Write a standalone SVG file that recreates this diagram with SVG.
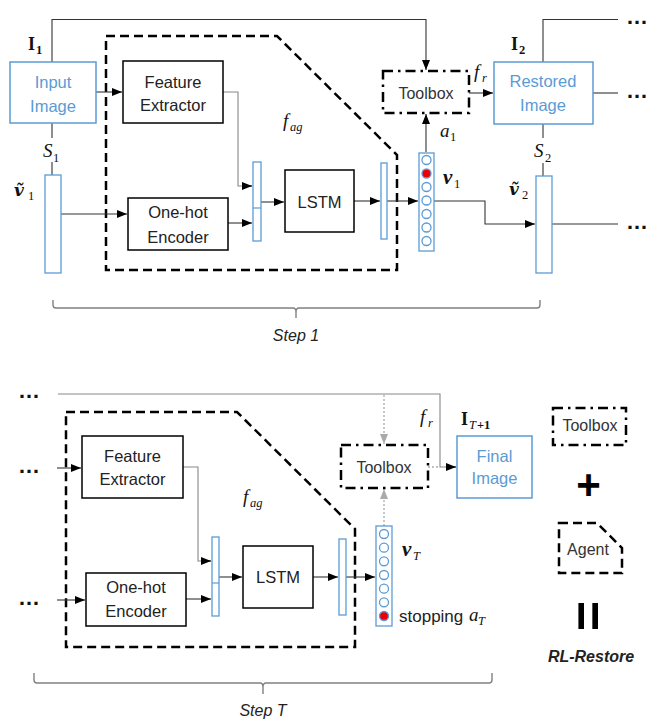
<svg xmlns="http://www.w3.org/2000/svg" width="650" height="720" viewBox="0 0 650 720">
<defs>
<marker id="ah" markerUnits="userSpaceOnUse" markerWidth="10" markerHeight="8" refX="10" refY="4" orient="auto"><path d="M0,0 L10,4 L0,8 z" fill="#000"/></marker>
<marker id="ahg" markerUnits="userSpaceOnUse" markerWidth="10" markerHeight="8" refX="10" refY="4" orient="auto"><path d="M0,0 L10,4 L0,8 z" fill="#aaa"/></marker>
<style>
.box{fill:#fff;stroke:#000;stroke-width:1.5}
.bbox{fill:#fff;stroke:#5b9bd5;stroke-width:1.5}
.bar{fill:#fff;stroke:#5b9bd5;stroke-width:1.3}
.agent{fill:none;stroke:#000;stroke-width:2.5;stroke-dasharray:9,5}
.tool{fill:#fff;stroke:#000;stroke-width:2.5;stroke-dasharray:10,5,2.5,5}
.ln{fill:none;stroke:#333;stroke-width:1.1}
.lg{fill:none;stroke:#888;stroke-width:1.1}
.dot{fill:none;stroke:#aaa;stroke-width:1.3;stroke-dasharray:2,2}
.brace{fill:none;stroke:#808080;stroke-width:1.4}
.t{font-family:"Liberation Sans",Arial,sans-serif;font-size:16.5px;fill:#222;text-anchor:middle}
.tb{font-family:"Liberation Sans",Arial,sans-serif;font-size:16.5px;fill:#5b9bd5;text-anchor:middle}
.tt{font-family:"Liberation Sans",Arial,sans-serif;font-size:16px;fill:#333;text-anchor:middle}
.step{font-family:"Liberation Sans",Arial,sans-serif;font-size:16px;font-style:italic;fill:#222;text-anchor:middle}
.m{font-family:"Liberation Serif","DejaVu Serif",serif;font-size:19px;font-style:italic;fill:#111}
.mb{font-family:"Liberation Serif","DejaVu Serif",serif;font-size:18px;font-weight:bold;fill:#111}
.mbi{font-family:"Liberation Serif","DejaVu Serif",serif;font-size:21px;font-weight:bold;font-style:italic;fill:#111}
.vt{font-family:"DejaVu Serif",serif;font-size:17px;font-weight:bold;font-style:italic;fill:#111}
.sub{font-family:"Liberation Serif","DejaVu Serif",serif;font-size:12.5px;fill:#111}
.subi{font-family:"Liberation Serif","DejaVu Serif",serif;font-size:12.5px;font-style:italic;fill:#111}
.dots{font-family:"Liberation Sans",Arial,sans-serif;font-size:22px;font-weight:bold;fill:#111}
.circ{fill:#fff;stroke:#5b9bd5;stroke-width:1.3}
.red{fill:#e00;stroke:#5b9bd5;stroke-width:1.3}
</style>
</defs>

<!-- ============ STEP 1 ============ -->
<g id="agent1"><path class="agent" d="M106,36 H277 L397,155 V270 H106 Z"/>
<text class="m" x="283" y="127">f</text><text class="subi" x="290" y="131">ag</text></g>

<g id="connectors1">
<path class="ln" d="M52,62 V19.5 H426 V70" marker-end="url(#ah)"/>
<path class="ln" d="M96,92 H122" marker-end="url(#ah)"/>
<path class="lg" d="M223,92 H238 V186 H252"/>
<path class="ln" d="M242,186 H252" marker-end="url(#ah)"/>
<path class="ln" d="M61,214 H127" marker-end="url(#ah)"/>
<path class="ln" d="M228,223 H252" marker-end="url(#ah)"/>
<path class="ln" d="M261,202 H284" marker-end="url(#ah)"/>
<path class="ln" d="M354,201 H380" marker-end="url(#ah)"/>
<path class="ln" d="M387,201 H418" marker-end="url(#ah)"/>
<path class="ln" d="M426,152 V114" marker-end="url(#ah)"/>
<path class="ln" d="M469,93 H493" marker-end="url(#ah)"/>
<path class="ln" d="M434,201 H485 V224 H535" marker-end="url(#ah)"/>
<path class="ln" d="M543,62 V19.5 H618"/>
<path class="ln" d="M593,93 H618"/>
<path class="ln" d="M552,224 H618"/>
<path class="ln" d="M52,123 V138 M52,162 V175"/>
<path class="ln" d="M543,124 V138 M543,163 V176"/>
</g>

<g id="input1"><rect class="bbox" x="10" y="62" width="86" height="61"/>
<text class="tb" x="53" y="88">Input</text><text class="tb" x="53" y="112">Image</text>
<text class="mb" x="28" y="50">I</text><text class="sub" x="36" y="54" font-weight="bold">1</text></g>

<g id="s1"><text class="m" x="43" y="157">S</text><text class="sub" x="53" y="162">1</text></g>

<g id="vt1"><rect class="bar" x="45" y="175" width="16" height="98"/>
<text class="vt" x="14" y="196">ṽ</text><text class="sub" x="28" y="200">1</text></g>

<g id="fe1"><rect class="box" x="123" y="61" width="100" height="62"/>
<text class="t" x="173" y="88">Feature</text><text class="t" x="173" y="111">Extractor</text></g>

<g id="ohe1"><rect class="box" x="128" y="198" width="100" height="52"/>
<text class="t" x="178" y="218">One-hot</text><text class="t" x="178" y="243">Encoder</text></g>

<g id="concat1"><rect class="bar" x="253" y="162" width="8" height="79"/><line x1="253" y1="208" x2="261" y2="208" stroke="#5b9bd5" stroke-width="1.2"/></g>

<g id="lstm1"><rect class="box" x="285" y="170" width="69" height="62"/><text class="t" x="319.5" y="208">LSTM</text></g>

<g id="out1"><rect class="bar" x="381" y="163" width="6" height="76"/></g>

<g id="v1"><rect class="bar" x="419" y="153" width="15" height="98"/>
<circle class="circ" cx="426.5" cy="160" r="4.5"/><circle class="red" cx="426.5" cy="173.5" r="4.5"/>
<circle class="circ" cx="426.5" cy="187" r="4.5"/><circle class="circ" cx="426.5" cy="200.5" r="4.5"/>
<circle class="circ" cx="426.5" cy="214" r="4.5"/><circle class="circ" cx="426.5" cy="227.5" r="4.5"/>
<circle class="circ" cx="426.5" cy="241" r="4.5"/>
<text class="mbi" x="443" y="184">v</text><text class="sub" x="454" y="188">1</text>
<text class="m" x="440" y="137">a</text><text class="sub" x="450" y="141">1</text></g>

<g id="toolbox1"><rect class="tool" x="383" y="71" width="86" height="42"/><text class="tt" x="426" y="99">Toolbox</text>
<text class="m" x="474" y="78">f</text><text class="subi" x="482" y="82">r</text></g>

<g id="restored"><rect class="bbox" x="494" y="62" width="99" height="62"/>
<text class="tb" x="543" y="87">Restored</text><text class="tb" x="543" y="111">Image</text>
<text class="mb" x="511" y="50">I</text><text class="sub" x="519" y="54" font-weight="bold">2</text></g>

<g id="s2"><text class="m" x="534" y="157">S</text><text class="sub" x="545" y="162">2</text></g>

<g id="vt2"><rect class="bar" x="536" y="176" width="16" height="97"/>
<text class="vt" x="509" y="195">ṽ</text><text class="sub" x="522" y="199">2</text></g>

<g id="dots1"><text class="dots" x="626" y="24">…</text><text class="dots" x="626" y="98">…</text><text class="dots" x="626" y="229">…</text></g>

<g id="brace1"><path class="brace" d="M53,300 V305 Q53,308 56,308 H293 Q296,308 296,312 V318 M296,312 Q296,308 299,308 H537 Q540,308 540,305 V300"/>
<text class="step" x="296" y="341">Step 1</text></g>

<!-- ============ STEP T ============ -->
<g id="agentT"><path class="agent" d="M66,412 H237 L355,529 V647 H66 Z"/>
<text class="m" x="243" y="503">f</text><text class="subi" x="250" y="507">ag</text></g>

<g id="connectorsT">
<path class="lg" d="M58,394 H440 V467 H456" stroke="#666"/>
<path class="ln" d="M446,467 H456" marker-end="url(#ah)"/>
<path class="dot" d="M384,395 V444" marker-end="url(#ahg)"/>
<path class="dot" d="M384,526 V489" marker-end="url(#ahg)"/>
<path class="dot" d="M428,467 H440"/>
<path class="ln" d="M57,468 H81" marker-end="url(#ah)"/>
<path class="lg" d="M183,467 H198 V561 H211"/>
<path class="ln" d="M201,561 H211" marker-end="url(#ah)"/>
<path class="ln" d="M57,600 H85" marker-end="url(#ah)"/>
<path class="ln" d="M186,599 H211" marker-end="url(#ah)"/>
<path class="ln" d="M219,577 H242" marker-end="url(#ah)"/>
<path class="ln" d="M313,577 H338" marker-end="url(#ah)"/>
<path class="ln" d="M346,577 H375" marker-end="url(#ah)"/>
</g>

<g id="dotsT"><text class="dots" x="18" y="398">…</text><text class="dots" x="18" y="473">…</text><text class="dots" x="18" y="605">…</text></g>

<g id="feT"><rect class="box" x="82" y="436" width="101" height="62"/>
<text class="t" x="132.5" y="462">Feature</text><text class="t" x="132.5" y="485">Extractor</text></g>

<g id="oheT"><rect class="box" x="86" y="573" width="100" height="53"/>
<text class="t" x="136" y="593">One-hot</text><text class="t" x="136" y="617">Encoder</text></g>

<g id="concatT"><rect class="bar" x="212" y="537" width="7" height="79"/><line x1="212" y1="583" x2="219" y2="583" stroke="#5b9bd5" stroke-width="1.2"/></g>

<g id="lstmT"><rect class="box" x="243" y="546" width="70" height="62"/><text class="t" x="278" y="583">LSTM</text></g>

<g id="outT"><rect class="bar" x="339" y="539" width="7" height="76"/></g>

<g id="vT"><rect class="bar" x="376" y="526" width="16" height="100"/>
<circle class="circ" cx="384" cy="534" r="4.5"/><circle class="circ" cx="384" cy="547.7" r="4.5"/>
<circle class="circ" cx="384" cy="561.3" r="4.5"/><circle class="circ" cx="384" cy="575" r="4.5"/>
<circle class="circ" cx="384" cy="588.7" r="4.5"/><circle class="circ" cx="384" cy="602.3" r="4.5"/>
<circle class="red" cx="384" cy="616" r="4.5"/>
<text class="mbi" x="402" y="556">v</text><text class="subi" x="413" y="560">T</text>
<text x="399" y="622" font-family="Liberation Sans, Arial, sans-serif" font-size="17" fill="#222">stopping</text>
<text class="m" x="469" y="621">a</text><text class="subi" x="478" y="625">T</text></g>

<g id="toolboxT"><rect class="tool" x="341" y="445" width="87" height="43"/><text class="tt" x="384" y="473">Toolbox</text>
<text class="m" x="420" y="423">f</text><text class="subi" x="428" y="427">r</text></g>

<g id="final"><rect class="bbox" x="457" y="436" width="75" height="62"/>
<text class="tb" x="494.5" y="462">Final</text><text class="tb" x="494.5" y="484">Image</text>
<text class="mb" x="461" y="425">I</text><text class="subi" x="469" y="429">T</text><text class="sub" x="477" y="429" font-weight="bold">+1</text></g>

<g id="braceT"><path class="brace" d="M34,673 V680 Q34,683 37,683 H260 Q263,683 263,687 V694 M263,687 Q263,683 266,683 H489 Q492,683 492,680 V673"/>
<text class="step" x="263" y="716">Step T</text></g>

<!-- ============ LEGEND ============ -->
<g id="legend-toolbox"><rect class="tool" x="553" y="408" width="73" height="37"/><text class="tt" x="590" y="431">Toolbox</text></g>
<g id="legend-plus"><text x="588.5" y="499" font-family="Liberation Sans, Arial, sans-serif" font-size="42" font-weight="bold" text-anchor="middle" fill="#000">+</text></g>
<g id="legend-agent"><path class="agent" d="M559,523 H597 L622,548 V573 H559 Z" stroke-dasharray="8,5"/><text class="tt" x="588" y="555">Agent</text></g>
<g id="legend-equals"><text x="588.5" y="616" font-family="Liberation Sans, Arial, sans-serif" font-size="52" font-weight="bold" text-anchor="middle" dominant-baseline="central" fill="#000" transform="rotate(90 588.5 616)">=</text></g>
<g id="legend-title"><text x="591" y="662" font-family="Liberation Sans, Arial, sans-serif" font-size="16" font-weight="bold" font-style="italic" text-anchor="middle" fill="#222">RL-Restore</text></g>
</svg>
